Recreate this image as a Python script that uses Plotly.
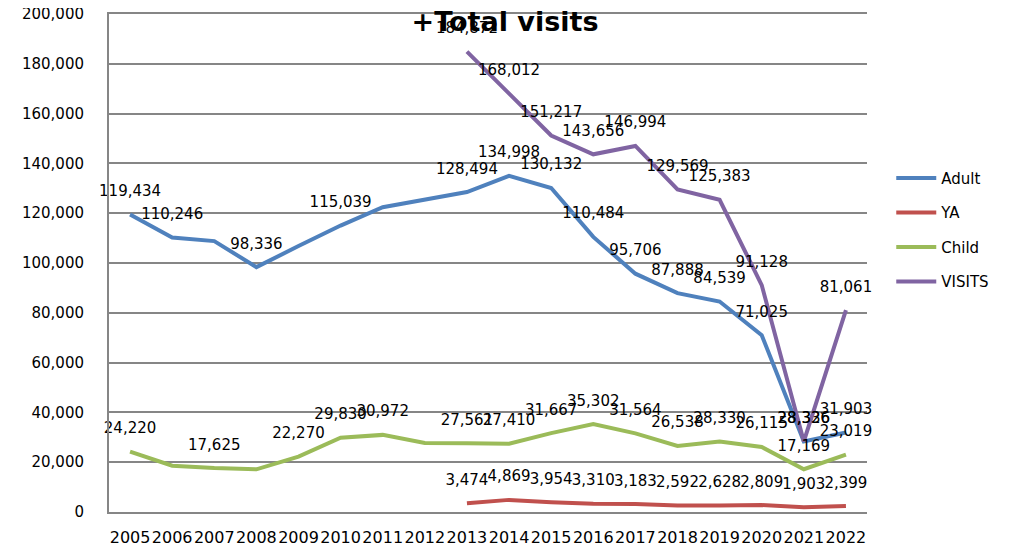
import plotly.graph_objects as go

years = list(range(2005, 2023))

adult = [119434, 110246, 108800, 98336, 106800, 115039, 122400, 125300, 128494,
         134998, 130132, 110484, 95706, 87888, 84539, 71025, 28336, 31903]
ya = [None, None, None, None, None, None, None, None, 3474,
      4869, 3954, 3310, 3183, 2592, 2628, 2809, 1903, 2399]
child = [24220, 18600, 17625, 17150, 22270, 29830, 30972, 27700, 27561,
         27410, 31667, 35302, 31564, 26538, 28330, 26115, 17169, 23019]
visits = [None, None, None, None, None, None, None, None, 184872,
          168012, 151217, 143656, 146994, 129569, 125383, 91128, 28326, 81061]

# years whose label was removed in the original sheet
adult_nolabel = [2007, 2009, 2011, 2012]
child_nolabel = [2006, 2008, 2012]

y_ticks = list(range(0, 200001, 20000))

series = [
    ("Adult", adult, "#4F81BD", adult_nolabel),
    ("YA", ya, "#C0504D", []),
    ("Child", child, "#9BBB59", child_nolabel),
    ("VISITS", visits, "#8064A2", []),
]

fig = go.Figure()
for name, vals, color, skip in series:
    fig.add_trace(go.Scatter(
        x=years, y=vals, name=name, legendgroup=name,
        mode="lines", line=dict(color=color, width=4),
    ))

# data labels drawn on top of all lines
for name, vals, color, skip in series:
    text = []
    for yr, v in zip(years, vals):
        if v is None or yr in skip:
            text.append("")
        else:
            text.append(f"{v:,}")
    fig.add_trace(go.Scatter(
        x=years, y=vals, showlegend=False, hoverinfo="skip",
        mode="markers+text",
        marker=dict(size=22, opacity=0, color=color),
        text=text, textposition="top center",
        textfont=dict(family="DejaVu Sans", size=15, color="#000000"),
        cliponaxis=False,
    ))

# page body has an 8px margin, so the figure is a bit smaller than the window
fig.update_layout(
    width=1027, height=548,
    margin=dict(l=101, r=168, t=6, b=44, autoexpand=False),
    paper_bgcolor="white", plot_bgcolor="white",
    font=dict(family="DejaVu Sans", size=15, color="#000000"),
    title=dict(text="<b>+Total visits</b>", x=0.484, xanchor="center",
               y=0.9745, yanchor="middle",
               font=dict(family="DejaVu Sans", size=27, color="#000000")),
    legend=dict(x=1.032, xanchor="left", y=0.567, yanchor="middle",
                font=dict(family="DejaVu Sans", size=15),
                tracegroupgap=12, itemwidth=40, bgcolor="rgba(0,0,0,0)"),
    showlegend=True,
)
# mirror gives the top 200,000 gridline that plotly skips at the edge
fig.update_xaxes(
    range=[2004.5, 2022.5], tickvals=years, ticktext=[str(y) for y in years],
    showgrid=False, showline=True, linecolor="#868686", linewidth=2,
    mirror=True,
    ticks="", zeroline=False, tickfont=dict(size=16), tickangle=0,
    ticklabelstandoff=10, automargin=False, ticklabeloverflow="allow",
)
fig.update_yaxes(
    range=[0, 200000], tickvals=y_ticks, tickformat=",",
    showgrid=True, gridcolor="#868686", gridwidth=1.5,
    showline=True, linecolor="#868686", linewidth=2,
    ticks="", zeroline=False, ticklabelstandoff=20, automargin=False,
    ticklabeloverflow="allow",
)

fig.write_html("out.html")
